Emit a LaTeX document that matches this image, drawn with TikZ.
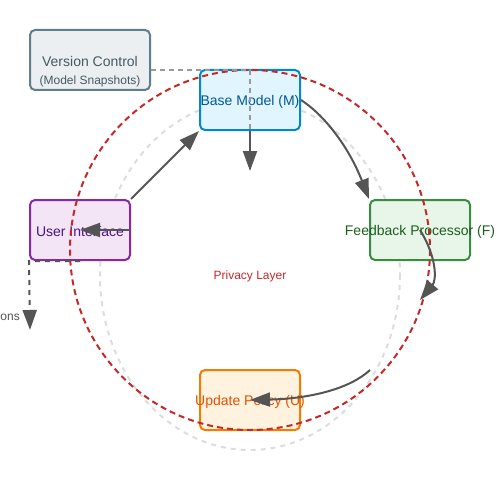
\documentclass[tikz,border=0pt]{standalone}
\usepackage{fontspec}
\setmainfont{Liberation Sans}
\usetikzlibrary{arrows.meta}
\definecolor{vcS}{HTML}{607D8B}\definecolor{vcF}{HTML}{ECEFF1}\definecolor{vcT}{HTML}{455A64}
\definecolor{bmS}{HTML}{0288D1}\definecolor{bmF}{HTML}{E1F5FE}\definecolor{bmT}{HTML}{01579B}
\definecolor{fpS}{HTML}{388E3C}\definecolor{fpF}{HTML}{E8F5E9}\definecolor{fpT}{HTML}{1B5E20}
\definecolor{uiS}{HTML}{8E24AA}\definecolor{uiF}{HTML}{F3E5F5}\definecolor{uiT}{HTML}{4A148C}
\definecolor{upS}{HTML}{F57C00}\definecolor{upF}{HTML}{FFF3E0}\definecolor{upT}{HTML}{E65100}
\definecolor{redL}{HTML}{C62828}\definecolor{grayL}{HTML}{DDDDDD}
\definecolor{arrC}{HTML}{555555}\definecolor{vcL}{HTML}{999999}
\tikzset{
  box/.style={draw, rounded corners=5pt, line width=2pt, minimum width=100pt, minimum height=60pt, inner sep=0pt, anchor=center},
  txt/.style={inner sep=0pt, anchor=center, yshift=-1.5pt, font=\fontsize{14}{16}\selectfont},
  small/.style={inner sep=0pt, yshift=-1.5pt, font=\fontsize{12}{14}\selectfont},
  arr/.style={draw=arrC, line width=2pt, -{Triangle[length=20pt,width=14pt]}},
  arrdash/.style={arr, dash pattern=on 5pt off 5pt},
  reddash/.style={draw=redL, line width=2pt, dash pattern=on 6pt off 4pt},
  graydash/.style={draw=grayL, line width=2pt, dash pattern=on 5pt off 5pt},
  vcdash/.style={draw=vcL, line width=2pt, dash pattern=on 5pt off 4pt}
}
\begin{document}
\begin{tikzpicture}[x=1pt,y=-1pt]
\useasboundingbox (0,0) rectangle (500,500);
\draw[graydash] (250,275) ellipse [x radius=150, y radius=175];
\node[box, draw=vcS, fill=vcF, minimum width=120pt] (vc) at (90,60) {};
\node[box, draw=bmS, fill=bmF] (bm) at (250,100) {};
\node[box, draw=fpS, fill=fpF] (fp) at (420,230) {};
\node[box, draw=uiS, fill=uiF] (ui) at (80,230) {};
\node[box, draw=upS, fill=upF] (up) at (250,400) {};
\node[txt, text=vcT] (vct) at (90,60) {Version Control};
\node[txt, text=vcT, font=\fontsize{12}{14}\selectfont] (vcs) at (90,80) {(Model Snapshots)};
\node[txt, text=bmT] (bmt) at (250,100) {Base Model (M)};
\node[txt, text=fpT] (fpt) at (420,230) {Feedback Processor (F)};
\node[txt, text=uiT] (uit) at (80,230) {User Interface};
\node[txt, text=upT] (upt) at (250,400) {Update Policy (U)};
\draw[reddash] (250,250) circle [radius=180];
\node[small, text=redL] (priv) at (250,275) {Privacy Layer};
\draw[vcdash] ([yshift=-10pt]vc.east) -| (bm.south);
\coordinate (bmd) at (250,171);
\coordinate (fpd) at (420,300);
\coordinate (upin) at (370,370);
\coordinate (uid) at (30,330);
\draw[arr] (bm.south) -- (bmd);
\draw[arr] (ui.north east) -- (bm.south west);
\draw[arr] (bm.east) .. controls (326.7,116.7) and (350,150) .. (fp.north west);
\draw[arr] (fp.center) .. controls (436.7,256.7) and (436.7,280) .. (fpd);
\draw[arr] (upin) .. controls (350,388.7) and (310,398.7) .. (up.center);
\draw[arr] (ui.east) -- (ui.center);
\draw[arrdash] (ui.south) -- (ui.south west) -- (uid);
\node[small, text=arrC, anchor=east] (ons) at (20,316) {ons};
\end{tikzpicture}
\end{document}
